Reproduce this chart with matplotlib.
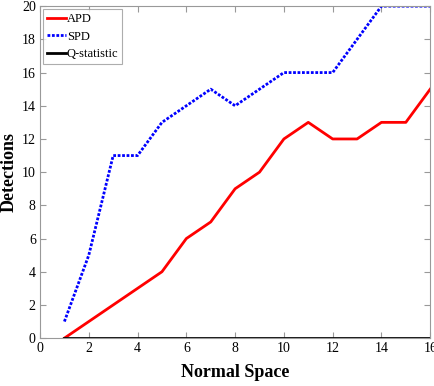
import numpy as np
import matplotlib.pyplot as plt

# data
normal_space = [1, 2, 3, 4, 5, 6, 7, 8, 9, 10, 11, 12, 13, 14, 15, 16]
apd = [0, 1, 2, 3, 4, 6, 7, 9, 10, 12, 13, 12, 12, 13, 13, 15]
spd = [1, 5, 11, 11, 13, 14, 15, 14, 15, 16, 16, 16, 18, 20, 20, 20]
q_stat = [0] * 16

plt.rcParams['font.family'] = ['Liberation Serif', 'DejaVu Serif']

fig = plt.figure(figsize=(4.35, 3.86), dpi=100)
ax = fig.add_axes([0.092, 0.124, 0.897, 0.86])

ax.plot(normal_space, apd, color='#ff0000', lw=2, label='APD')
ax.plot(normal_space, spd, color='#0000ff', lw=2, ls=(0, (1, 0.6)), label='SPD')
ax.plot(normal_space, q_stat, color='black', lw=2, label='Q-statistic')

ax.set_xlim(0, 16)
ax.set_ylim(0, 20)
ax.set_xticks(range(0, 17, 2))
ax.set_yticks(range(0, 21, 2))
ax.tick_params(direction='in', top=True, right=True, length=4, color='#999999',
               labelsize=10, pad=3)
for s in ax.spines.values():
    s.set_color('#999999')

ax.set_xlabel('Normal Space', fontsize=13, fontweight='bold', labelpad=6)
ax.set_ylabel('Detections', fontsize=13, fontweight='bold', labelpad=3)

leg = ax.legend(loc='upper left', fontsize=9, frameon=True, fancybox=False,
                handlelength=1.5, handletextpad=0.1, borderpad=0.3,
                labelspacing=0.45, borderaxespad=0.25)
leg.get_frame().set_edgecolor('#999999')
leg.get_frame().set_linewidth(0.8)

fig.savefig('out.png', dpi=100)
